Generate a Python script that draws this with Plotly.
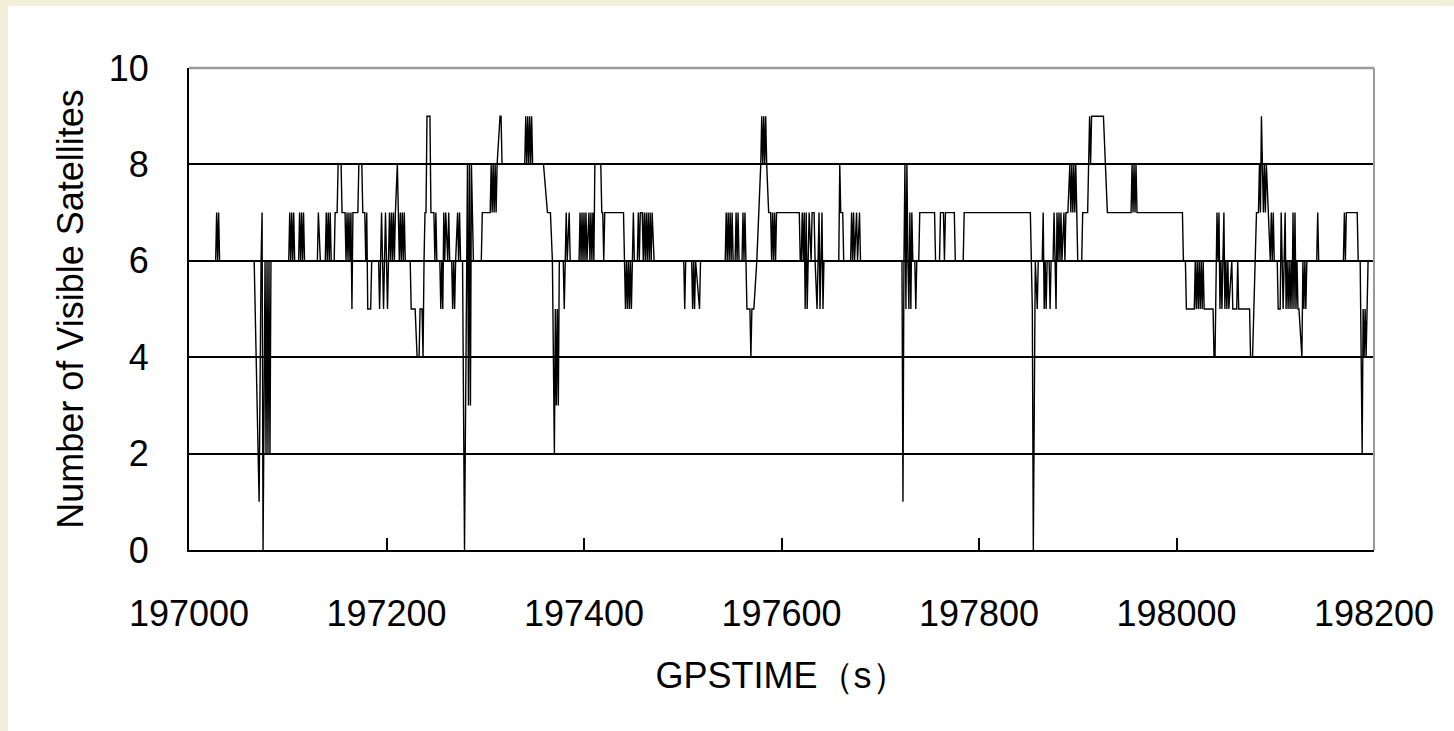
import plotly.graph_objects as go

# ---- data (GPS time in s, number of visible satellites) ----
time_a = [197022, 197027, 197028, 197029, 197030, 197031,
          197066, 197071, 197073, 197074, 197075, 197077, 197078, 197079, 197080, 197081, 197082, 197083,
          197101, 197102, 197103, 197104, 197105, 197106, 197107,
          197111, 197112, 197113, 197114, 197115, 197116, 197117,
          197130, 197131, 197133,
          197138, 197139, 197140, 197141, 197142, 197143, 197144,
          197147, 197148, 197150, 197151, 197154, 197155,
          197158, 197159, 197160, 197161, 197162, 197163, 197164, 197165, 197166,
          197171, 197172, 197175, 197176, 197178, 197179, 197180, 197181, 197184, 197185,
          197192, 197193, 197194, 197195, 197196, 197197, 197198, 197199, 197200, 197201, 197202]
sats_a = [6, 6, 7, 6, 7, 6,
          6, 1, 6, 7, 0, 6, 2, 6, 2, 6, 2, 6,
          6, 7, 6, 7, 6, 7, 6,
          6, 7, 6, 7, 6, 7, 6,
          6, 7, 6,
          6, 7, 6, 7, 6, 7, 6,
          6, 7, 7, 8, 8, 7,
          7, 6, 7, 6, 7, 6, 7, 5, 7,
          7, 8, 8, 7, 7, 6, 7, 5, 5, 6,
          6, 5, 6, 7, 6, 5, 6, 7, 6, 5, 6]

time_b = [197203, 197204, 197205, 197206, 197207, 197208, 197209,
          197211, 197212, 197213, 197214, 197215, 197216, 197217, 197218, 197219,
          197224, 197225, 197229, 197231, 197233, 197234, 197236, 197237, 197238,
          197239, 197240, 197241, 197244, 197245, 197248, 197249, 197250, 197251,
          197254, 197255, 197256, 197257, 197258, 197259, 197260, 197262, 197263, 197264,
          197266, 197267, 197268, 197269, 197270,
          197272, 197273, 197274, 197275,
          197277, 197279, 197281, 197282, 197283, 197284, 197285, 197286, 197287, 197288,
          197296, 197297, 197305,
          197306, 197307, 197308, 197309, 197310, 197311, 197312,
          197315, 197316, 197317,
          197340, 197341, 197342, 197343, 197344, 197345, 197346, 197347, 197348,
          197359, 197363, 197366, 197368, 197370,
          197371, 197372, 197373, 197374, 197375,
          197379, 197380, 197381, 197382, 197383, 197385, 197386,
          197395, 197396, 197397, 197398, 197399]
sats_b = [7, 6, 7, 6, 7, 6, 7,
          8, 7, 6, 7, 6, 7, 6, 7, 6,
          6, 5, 5, 4, 4, 5, 5, 4, 6,
          7, 7, 9, 9, 7, 7, 6, 7, 6,
          6, 5, 6, 5, 7, 6, 7, 6, 7, 6,
          6, 5, 6, 5, 6,
          7, 6, 7, 6,
          6, 0, 6, 8, 3, 8, 3, 8, 7, 6,
          6, 7, 7,
          8, 7, 8, 7, 8, 7, 8,
          9, 9, 8,
          8, 9, 8, 9, 8, 9, 8, 9, 8,
          8, 7, 7, 6, 2,
          5, 3, 5, 3, 6,
          6, 5, 6, 7, 6, 7, 6,
          6, 7, 6, 7, 6]

time_c = [197400, 197401, 197402, 197403, 197405, 197406, 197407, 197408, 197409, 197410,
          197411, 197417, 197418, 197419, 197420, 197421,
          197440, 197441, 197442, 197443, 197444, 197445, 197446, 197447, 197448, 197449, 197450, 197451,
          197454, 197455, 197456, 197457, 197459, 197460, 197461, 197462, 197463, 197464, 197465, 197466,
          197467, 197468, 197469, 197471,
          197501, 197502, 197503, 197509, 197510, 197511, 197512, 197513, 197517, 197518,
          197543, 197544, 197545, 197546, 197547, 197548, 197549, 197550, 197551,
          197553, 197554, 197555, 197556, 197557,
          197560, 197561, 197562, 197563, 197564, 197565, 197568, 197569, 197570, 197572, 197575, 197577,
          197579, 197580, 197581, 197582, 197583, 197584, 197585,
          197587, 197589, 197590, 197591, 197592, 197593, 197594, 197595]
sats_c = [7, 6, 7, 6, 7, 6, 7, 6, 7, 6,
          8, 8, 7, 7, 6, 7,
          7, 6, 5, 6, 5, 6, 5, 6, 5, 6, 7, 6,
          6, 7, 6, 7, 7, 6, 7, 6, 7, 6, 7, 6,
          7, 6, 7, 6,
          6, 5, 6, 6, 5, 6, 5, 6, 5, 6,
          6, 7, 6, 7, 6, 7, 6, 7, 6,
          6, 7, 6, 7, 6,
          6, 7, 6, 7, 6, 5, 5, 4, 5, 5, 6, 7,
          8, 9, 8, 9, 8, 9, 8,
          7, 7, 6, 7, 6, 7, 6, 7]

time_d = [197618, 197619, 197620, 197621, 197622, 197623, 197624, 197625, 197626, 197627, 197628,
          197630, 197631, 197633, 197634, 197636, 197637, 197638, 197639, 197640, 197641, 197642, 197643,
          197658, 197659, 197660, 197662, 197663,
          197670, 197671, 197672, 197673, 197674, 197676, 197677, 197679, 197680,
          197722, 197723, 197724, 197725, 197726, 197727, 197728, 197729, 197730, 197731, 197732, 197733,
          197735, 197736, 197737, 197739, 197740,
          197755, 197756, 197760, 197761, 197764, 197765, 197766, 197775, 197776, 197784, 197785]
sats_d = [7, 6, 6, 7, 6, 7, 5, 7, 5, 6, 7,
          6, 7, 7, 6, 5, 6, 7, 5, 6, 7, 5, 6,
          6, 8, 7, 7, 6,
          6, 7, 6, 7, 6, 7, 6, 7, 6,
          6, 1, 6, 8, 5, 8, 6, 5, 7, 5, 7, 6,
          6, 5, 6, 6, 7,
          7, 6, 6, 7, 7, 6, 7, 7, 6, 6, 7]

time_e = [197852, 197854, 197855, 197857,
          197859, 197860, 197864, 197865, 197866, 197867, 197868, 197869,
          197871, 197872, 197873, 197875, 197876, 197877, 197878, 197879, 197880, 197881, 197882, 197883, 197884,
          197886, 197887, 197888, 197890, 197892, 197893, 197894, 197895, 197896, 197897, 197898, 197899, 197900,
          197904, 197905, 197910, 197912, 197913, 197914, 197926, 197930,
          197954, 197955, 197956, 197957, 197958, 197959, 197960,
          198006]
sats_e = [7, 5, 0, 6,
          5, 6, 6, 7, 5, 6, 5, 6,
          6, 5, 6, 6, 7, 6, 5, 7, 6, 7, 6, 7, 6,
          7, 6, 7, 7, 8, 7, 8, 7, 8, 7, 8, 7, 6,
          6, 7, 7, 9, 8, 9, 9, 7,
          7, 8, 7, 8, 7, 8, 7,
          7]

time_f = [198007, 198009, 198010, 198018,
          198019, 198020, 198021, 198022, 198023, 198024, 198025, 198026, 198027, 198028,
          198037, 198038, 198039, 198040,
          198041, 198042, 198043, 198044, 198045, 198046, 198047, 198048, 198049, 198050, 198051, 198052, 198053,
          198056, 198057, 198061, 198062, 198063,
          198074, 198075, 198077, 198081, 198083,
          198084, 198085, 198086, 198087, 198088, 198089, 198090, 198091,
          198095, 198096, 198097, 198098, 198099,
          198102, 198103, 198105,
          198106, 198107, 198108, 198109, 198110, 198111, 198112, 198113, 198114, 198115, 198116, 198117,
          198118, 198119, 198120, 198121, 198122, 198123, 198124,
          198127, 198128, 198129, 198130, 198131, 198132,
          198142, 198143, 198144,
          198169, 198170, 198171, 198172,
          198183, 198184, 198186, 198188, 198189, 198190, 198191, 198192, 198194, 198198]
sats_f = [6, 6, 5, 5,
          6, 5, 6, 5, 6, 5, 6, 5, 6, 5,
          5, 4, 4, 6,
          7, 6, 7, 5, 6, 5, 6, 7, 5, 6, 5, 6, 5,
          6, 5, 5, 6, 5,
          5, 4, 4, 7, 7,
          8, 7, 9, 8, 7, 8, 7, 8,
          6, 7, 6, 7, 6,
          6, 5, 5,
          7, 6, 5, 6, 7, 5, 6, 5, 6, 5, 6, 5,
          7, 5, 7, 5, 6, 5, 5,
          4, 6, 5, 6, 5, 6,
          6, 7, 6,
          6, 7, 6, 7,
          7, 6, 6, 2, 5, 4, 5, 4, 6, 6]

gps_time = time_a + time_b + time_c + time_d + time_e + time_f
num_sats = sats_a + sats_b + sats_c + sats_d + sats_e + sats_f
assert len(gps_time) == len(num_sats), (len(gps_time), len(num_sats))

x_ticks = [197000, 197200, 197400, 197600, 197800, 198000, 198200]
y_ticks = [0, 2, 4, 6, 8, 10]

FONT = "Liberation Sans, Arial, sans-serif"
W, H = 1454, 731
L, R, T, B = 189, 80, 68, 181
pw, ph = W - L - R, H - T - B

fig = go.Figure()
fig.add_trace(go.Scatter(x=gps_time, y=num_sats, mode="lines",
                         line=dict(color="black", width=1.4), showlegend=False,
                         hoverinfo="x+y"))

fig.update_layout(
    width=W, height=H,
    margin=dict(l=L, r=R, t=T, b=B, autoexpand=False),
    paper_bgcolor="#F1EED9",
    plot_bgcolor="white",
    font=dict(family=FONT, size=36, color="black"),
    showlegend=False,
    xaxis=dict(
        range=[x_ticks[0], x_ticks[-1]], tickvals=x_ticks, tickformat="d",
        showgrid=False, zeroline=False,
        showline=True, linecolor="black", linewidth=2,
        ticks="inside", ticklen=12, tickwidth=1.5, tickcolor="black",
        ticklabelstandoff=31,
        tickfont=dict(family=FONT, size=36, color="black"),
        title=dict(text="GPSTIME（s）", font=dict(family=FONT, size=36, color="black"), standoff=30),
        automargin=False,
    ),
    yaxis=dict(
        range=[y_ticks[0], y_ticks[-1]], tickvals=y_ticks,
        showgrid=True, gridcolor="black", gridwidth=1.5, zeroline=False,
        showline=True, linecolor="black", linewidth=2,
        ticks="", ticklabelstandoff=31,
        tickfont=dict(family=FONT, size=36, color="black"),
        title=dict(text="Number of Visible Satellites", font=dict(family=FONT, size=36, color="black"), standoff=14),
        automargin=False,
    ),
    shapes=[
        # white page area (beige frame visible only on left and top edges)
        dict(type="rect", xref="paper", yref="paper",
             x0=(8 - L) / pw, x1=1.2, y0=-0.5, y1=(H - B - 6) / ph,
             fillcolor="white", line=dict(width=0), layer="below"),
        # grey top and right frame of the plot area
        dict(type="line", xref="paper", yref="paper", x0=0, x1=1, y0=1, y1=1,
             line=dict(color="#9a9a9a", width=2.5), layer="above"),
        dict(type="line", xref="paper", yref="paper", x0=1, x1=1, y0=0, y1=1,
             line=dict(color="#9a9a9a", width=2), layer="above"),
    ],
)

fig.write_html("out.html")
